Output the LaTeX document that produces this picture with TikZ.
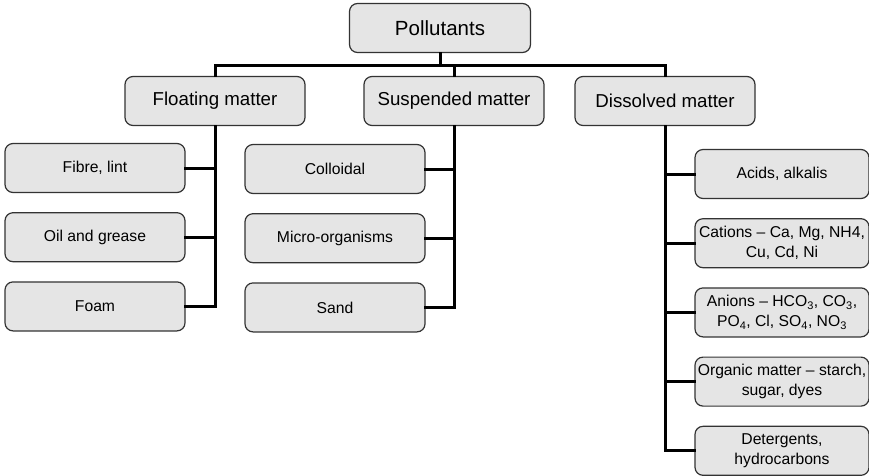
\documentclass[tikz,border=0pt]{standalone}
\usepackage{fontspec}
\setmainfont{Liberation Sans}
\usepackage{tikz}
\usetikzlibrary{positioning}

\begin{document}
\begin{tikzpicture}[x=1pt,y=-1pt,
        box/.style={draw=black!80,line width=1.2pt,fill=black!10,rounded corners=8pt,
        minimum height=49pt,align=center,inner xsep=1pt},
        head/.style={box,minimum width=180pt,font=\fontsize{18.7}{22}\selectfont},
        leaf/.style={box,minimum width=180pt,font=\fontsize{15.7}{20}\selectfont},
        conn/.style={line width=3pt,line cap=rect}]

        \useasboundingbox (0,0) rectangle (869,475);

        % Top
        \node[head,minimum width=181pt,font=\fontsize{20.5}{24}\selectfont] (poll) at (440,28) {Pollutants};
        % Groups
        \node[head] (float) at (215,101) {Floating matter};
        \node[head] (susp) at (454,101) {Suspended matter};
        \node[head] (diss) at (665,101) {Dissolved matter};

        % Floating
        \node[leaf] (fibre) at (95,168) {Fibre, lint};
        \node[leaf,below=19pt of fibre] (oil) {Oil and grease};
        \node[leaf,below=19pt of oil] (foam) {Foam};
        % Suspended
        \node[leaf] (coll) at (335,169) {Colloidal};
        \node[leaf,below=19pt of coll] (micro) {Micro-organisms};
        \node[leaf,below=19pt of micro] (sand) {Sand};
        % Dissolved
        \node[leaf,minimum width=174pt] (acid) at (782,174) {Acids, alkalis};
        \node[leaf,minimum width=174pt,below=19pt of acid] (cat) {Cations -- Ca, Mg, NH4,\\ Cu, Cd, Ni};
        \node[leaf,minimum width=174pt,below=19pt of cat] (an) {Anions -- HCO\textsubscript{3}, CO\textsubscript{3},\\ PO\textsubscript{4}, Cl, SO\textsubscript{4}, NO\textsubscript{3}};
        \node[leaf,minimum width=174pt,below=19pt of an] (org) {Organic matter -- starch,\\ sugar, dyes};
        \node[leaf,minimum width=174pt,below=19pt of org] (det) {Detergents,\\ hydrocarbons};

        \draw[conn] (poll.south) -- ++(0,12) coordinate (bar);
        \draw[conn] (float.north) |- (bar) -| (diss.north);
        \draw[conn] (susp.north) -- (susp.north|-bar);

        \foreach \c in {fibre,oil,foam}
            \draw[conn] (float.south) |- (\c.east);
        \foreach \c in {coll,micro,sand}
            \draw[conn] (susp.south) |- (\c.east);
        \foreach \c in {acid,cat,an,org,det}
            \draw[conn] (diss.south) |- (\c.west);

\end{tikzpicture}
\end{document}
